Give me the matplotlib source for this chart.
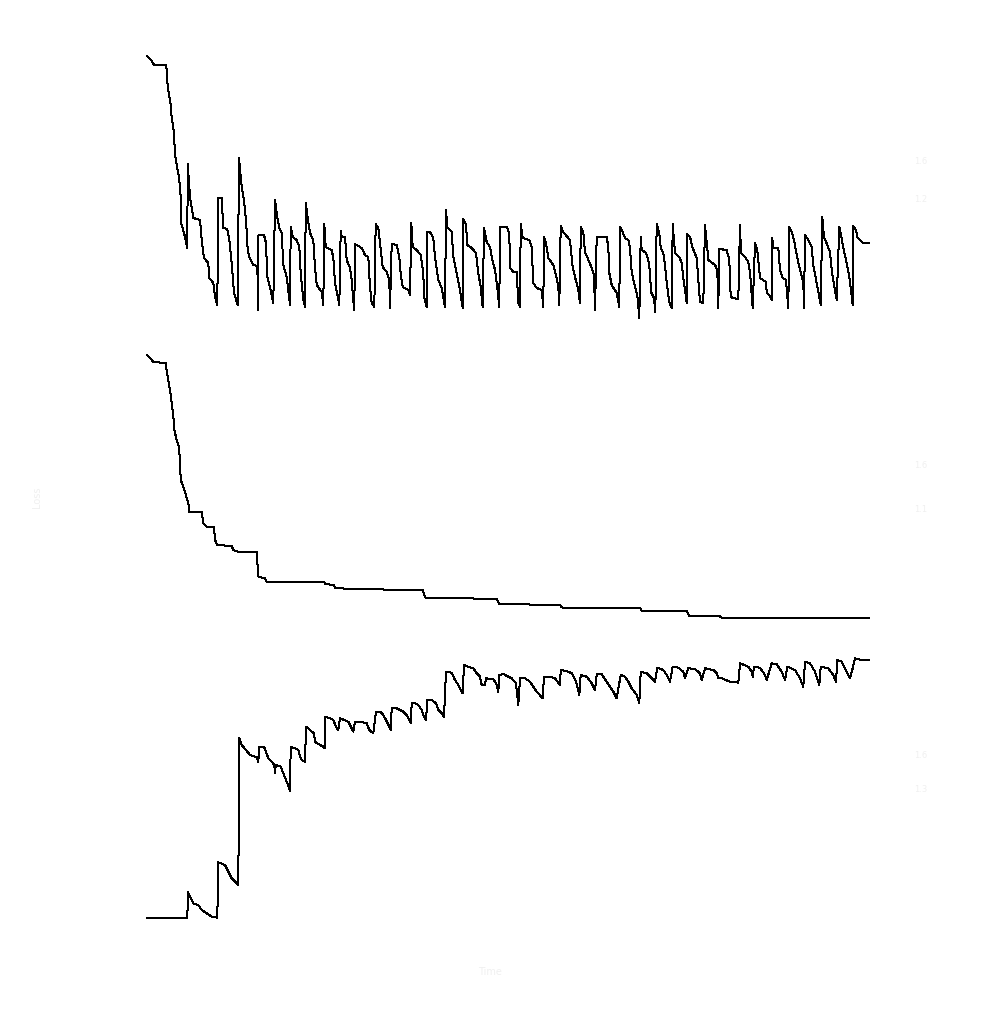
import matplotlib
matplotlib.use("Agg")
import matplotlib.pyplot as plt

# training curves (time steps, value units)
loss_t = [2.3, 6.7, 9, 21, 21.7, 22.7, 24.3, 25.7, 26.7, 28.3, 29.3, 30, 31.7, 34, 35.7, 35.7, 37.7, 40, 42.3,
          42.7, 45, 48.3, 55, 56.7, 59, 63.3, 64.3, 68.3, 70, 72.3,
          73.3, 76.7, 78.3, 82.3, 84.3, 86.7, 89, 92.7,
          94, 96.7, 99, 101, 102.7, 104.3, 108.3, 112.3, 113.3,
          113.5, 119, 121, 122.3, 125, 128.3,
          130, 132.3, 134.3, 136.7, 138.3, 141.7, 145,
          145.7, 147.7, 151.7, 154.3, 155.7, 158.3, 160,
          160.7, 162.7, 165, 168.3, 170, 171.7, 176.7, 178.3,
          179.3, 180.7, 186.7, 188.3, 190, 192.3, 194.3,
          195.7, 196.7, 200, 201.7, 205, 206.7, 208.3, 209.3,
          210, 216.7, 220, 223.3, 225, 226.7, 229.3,
          230.7, 233.3, 235, 237.7, 241.7, 244.3, 245,
          246.7, 251.7, 254.3, 256, 257.7, 263.3, 265,
          266.3, 267.7, 271.7, 275.7, 278.3, 279, 281.7,
          282.3, 285, 288.3, 290, 293.3, 296.7, 298.3, 300,
          301, 302.3, 306.7, 308.3, 311.7, 315, 317.7,
          318.3, 321, 322.3, 326.7, 331, 333.3, 335.7, 337.7,
          339, 341.7, 345, 346.7, 350, 352.3, 354.3,
          355, 361.7, 364.3, 365, 368.3, 371.7, 373.3, 375,
          375.7, 377.7, 384.3, 386.7, 388.3, 391.7, 396.7, 398.3,
          399, 401, 403.3, 408.3, 411.7, 413.3, 414.3,
          415.7, 418.3, 425, 427.7, 430, 433.3, 435,
          435.7, 438.3, 440, 444.3, 446.7, 449, 450,
          451.7, 461.7, 463.3, 464.3, 466.7, 471.7, 474.3,
          475, 477.7, 480, 483.3, 485, 486.7, 490, 492.3, 494.3,
          495.7, 496.7, 501, 503.3, 505, 506, 509, 510.3,
          511.7, 514.3, 515.7, 518.3, 520, 521.7, 524.3, 526.7,
          527.7, 530, 534.3, 536.7, 538.3, 541, 541.7,
          542.3, 545, 547.7, 551.7, 553.3, 555, 558.3,
          560, 562.3, 563.3, 570, 572.3, 573.3,
          574.3, 581.7, 584.3, 585.7, 588.3, 593.3,
          595, 596, 600, 603.3, 605, 607.7,
          610, 612.3, 615, 621, 621.7, 625, 626.7,
          627.3, 628.3, 633.3, 635, 637.7, 641, 643.3,
          644.3, 646.7, 649, 651.7, 655, 658.3, 659,
          660, 663.3, 666.7, 668.3, 671.7, 674.3, 675.7,
          677.3, 679, 682.3, 685, 686.7, 689, 691.7,
          694.3, 695.7, 698.3, 701.7, 704.3, 705.7, 707.7,
          708.3, 711, 712.3, 715.7, 718.3, 724.3]
loss_v = [264, 259.3, 255, 255, 250, 233.3, 223.3, 215, 202, 193.3, 180, 165, 155, 143, 123, 98, 92, 83, 72,
          156, 123, 102, 100, 80, 62, 57, 42, 37, 23, 15,
          122, 122, 92, 91, 80, 57, 27, 15,
          162, 133, 120, 100, 70, 63, 55, 54, 10,
          85, 85, 77, 43, 33, 17,
          120, 103, 92, 87, 55, 43, 15,
          93, 83, 80, 73, 47, 20, 13,
          117, 102, 87, 80, 53, 35, 28, 15,
          96, 73, 70, 62, 37, 25, 15,
          89, 83, 83, 60, 52, 40, 20, 10,
          76, 72, 65, 63, 33, 17, 13,
          96, 92, 77, 53, 48, 40, 12,
          76, 75, 63, 43, 33, 30, 25,
          97, 73, 70, 65, 47, 23, 13,
          88, 88, 82, 63, 40, 32, 23, 13,
          110, 93, 88, 63, 47, 30, 12,
          101, 95, 75, 72, 67, 47, 33, 13,
          92, 78, 73, 63, 50, 33, 13,
          93, 93, 87, 52, 48, 48, 17, 13,
          96, 82, 80, 73, 37, 32, 30, 13,
          83, 77, 62, 55, 42, 33, 15,
          94, 88, 80, 53, 43, 30, 17,
          93, 88, 68, 58, 52, 45, 10,
          83, 83, 73, 47, 35, 27, 13,
          93, 88, 82, 80, 72, 48, 33, 25, 2,
          83, 70, 67, 60, 48, 28, 22, 8,
          96, 87, 72, 67, 55, 37, 18, 12,
          96, 67, 63, 57, 42, 23, 17,
          86, 83, 72, 62, 40, 18, 17,
          95, 72, 60, 55, 50, 12,
          71, 70, 60, 23, 22, 21,
          95, 67, 63, 58, 48, 12,
          77, 70, 42, 38, 27, 24, 20,
          82, 72, 72, 50, 42, 40, 12,
          93, 88, 80, 65, 50, 38, 12,
          85, 80, 73, 55, 37, 23, 15,
          103, 83, 75, 68, 50, 35, 20,
          93, 87, 72, 57, 43, 32, 15,
          94, 90, 83, 79, 77, 77]

best_t = [2.3, 8.3, 21, 21.7, 23.3, 25, 26.7, 28.3, 29.3, 31.7, 34, 35, 35.7, 37.7, 40, 41.7, 43.3, 44.3,
          56.7, 58.3, 61.7, 69, 70, 72.3, 86.7, 88.3, 93.3, 111.7, 113.3, 120, 121.7, 179, 180, 189, 190,
          278, 280, 352, 354, 415, 417, 495, 497, 542, 544, 575, 577, 725]
best_v = [265, 258.3, 256.7, 248.3, 240, 230, 217, 205, 190, 180, 173.3, 158.3, 140, 135, 128.3, 122, 117, 108.3,
          107.7, 97, 93.3, 93.3, 80, 75, 74, 70, 68.3, 68.3, 43.3, 41.7, 38.3, 38.3, 36, 35, 31.7,
          29.5, 22.5, 21, 16, 15, 12.5, 12, 9, 8.5, 4, 3.5, 2, 1.8]

acc_t = [2.3, 42.3, 43, 45, 48.3, 53.3, 56.7, 61.7, 66.7, 72.3,
         73.3, 80, 83.3, 86.7, 90, 93.3,
         94.3, 96.7, 101, 105, 111.7, 113.3, 114.3, 119, 121, 123.3, 126.7, 129.3, 130, 130.7,
         135.7, 138.3, 141.7, 145, 145.7, 150, 153.3, 155, 156.7, 160,
         161, 165, 169, 170, 173.3, 178.3, 180, 180.3, 185, 188.3, 191, 193.3,
         195, 203.3, 205, 208.3, 210, 215, 221.7, 224.3, 228.3,
         231, 235, 238.3, 241, 244.3, 245.7, 246.7, 251.7, 258.3, 261.7, 264.3, 265.7,
         266.7, 270, 273.3, 276.7, 278.3, 281, 282.3, 286.7, 291, 293.3, 296.7, 299,
         301, 306.7, 310, 313.3, 316.7, 317.7, 319, 323.3, 328.3, 331.7, 335, 336.7, 340,
         341, 348.3, 351, 353.3, 354.3, 358.3, 363.3, 366.7, 371, 373.3,
         375, 380, 385, 388.3, 391.7, 397.7, 399, 405, 410, 415,
         415.7, 421.7, 426.7, 431, 434.3, 435.7, 441.7, 446.7, 450,
         451.7, 456.7, 461.7, 468.3, 471.7, 475.7, 480, 483.3, 486.7, 491.7, 494.3,
         495.7, 501.7, 506.7, 510, 512.3, 518.3, 521.7, 525, 527.7, 533.3, 538.3, 540,
         543.3, 550, 555, 556.7, 560, 568.3, 571.7, 573.3, 576.7, 585, 591.7, 593.3,
         595, 603.3, 606.7, 607.7, 609, 615, 620, 621.7, 626.7, 631.7, 636.7, 640,
         642.3, 650, 655, 658.3, 660, 665, 670, 674.3, 675.7, 683.3, 688.3, 691,
         692.3, 696.7, 701.7, 705, 707.7, 710, 716.7, 725]
acc_v = [1.7, 1.7, 28, 23.3, 16.7, 15, 10, 6.7, 3.3, 2.3,
         57.7, 55, 48.3, 41.7, 38.3, 35,
         181.7, 175, 170, 165, 162.7, 158.3, 173.3, 173.3, 168.3, 161.7, 158.3, 155, 147, 155,
         153.3, 146.7, 138.3, 129.3, 173.3, 171.7, 170, 163.3, 160, 158.3,
         193.3, 190, 186.7, 178.3, 176, 173.3, 171.7, 203.3, 201.7, 200, 193.3, 190,
         201.7, 198.3, 195, 188.3, 198.3, 198.3, 196.7, 190, 186.7,
         208.3, 208.3, 205, 200, 193.3, 190, 211.7, 211.7, 208.3, 205, 200, 196.7,
         216.7, 216.7, 215, 210, 205, 200, 220, 220, 216.7, 210, 206.7, 203.3,
         248.3, 247.3, 240, 235, 228.3, 226.7, 255, 253.3, 251.7, 246.7, 243.3, 235, 235,
         241.7, 240.7, 237, 228.3, 245, 246, 243.3, 241.7, 236.7, 215,
         241.7, 241.7, 238.3, 233.3, 228.3, 221.7, 243.3, 243.3, 241.7, 235,
         250, 249, 246.7, 238.3, 225, 245, 243.3, 236.7, 230,
         245.7, 245.7, 238.3, 228.3, 221.7, 245, 243.3, 238.3, 231.7, 225, 216.7,
         248.3, 246.7, 241.7, 238.3, 252.3, 250, 245, 238.3, 253.3, 252.3, 248.3, 241.7,
         251.7, 251, 246.7, 240, 251.7, 250, 246.7, 241.7, 241.7, 238.3, 238.3, 236.7,
         256.7, 253.3, 248.3, 243.3, 253.3, 252.3, 245, 240, 256.7, 255.7, 248.3, 240,
         253.3, 250, 241.7, 233.3, 258.3, 256.7, 248.3, 235, 253.3, 251.7, 245, 238.3,
         260, 258.3, 248.3, 241.7, 251.7, 261.7, 260, 260]

W, H = 1001, 1010
fig = plt.figure(figsize=(W / 100, H / 100), dpi=100)
fig.patch.set_facecolor("white")

series = [(loss_t, loss_v, 50), (best_t, best_v, 350), (acc_t, acc_v, 650)]
axes = []
for t, v, top in series:
    ax = fig.add_axes([145 / W, 1 - (top + 270) / H, 725 / W, 270 / H])
    ax.plot(t, v, color="black", lw=0.72, antialiased=False)
    ax.set_xlim(0, 725)
    ax.set_ylim(0, 270)
    ax.set_xticks([])
    ax.set_yticks([])
    for s in ax.spines.values():
        s.set_visible(False)
    axes.append(ax)

# labels are drawn almost white in the reference
faint = "#f0f0f0"
fig.text(490 / W, 1 - 972 / H, "Time", fontsize=7, color=faint, ha="center", va="center")
fig.text(37 / W, 1 - 497 / H, "Loss", fontsize=7, color=faint, rotation=90, ha="center", va="center")
for ax, ticks in zip(axes, [[158, 120], [155, 110], [165, 130]]):
    for y in ticks:
        ax.text(1.07, y, f"{y / 100:.1f}", transform=ax.get_yaxis_transform(),
                fontsize=6, color=faint, ha="center", va="center")

fig.savefig("out.png", dpi=100, facecolor="white")
